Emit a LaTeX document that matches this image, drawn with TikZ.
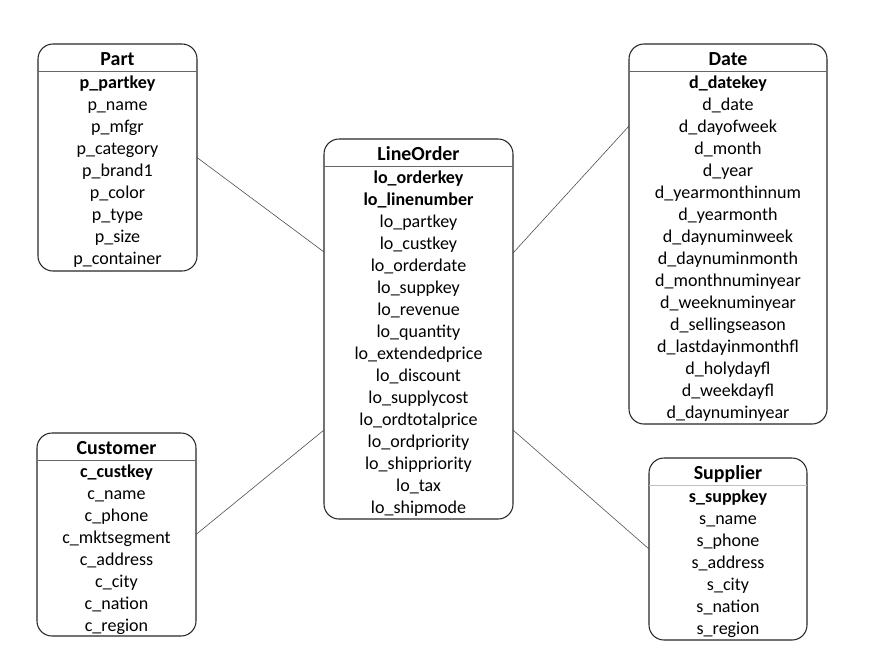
\documentclass[tikz,border=0pt]{standalone}
\usepackage{fontspec}
\setmainfont{Carlito}
\tikzset{
  tblbox/.style={draw=black!85, line width=0.9pt, rounded corners=0.45cm, inner sep=0pt, outer sep=0pt, anchor=north west},
  tbltitle/.style={anchor=base, inner sep=0pt, font=\fontsize{17}{20}\selectfont\bfseries},
  tblkey/.style={anchor=base, inner sep=0pt, font=\fontsize{15.4}{18}\selectfont\bfseries},
  tblrow/.style={anchor=base, inner sep=0pt, font=\fontsize{15.4}{18}\selectfont},
  sepline/.style={draw=black!60, line width=0.6pt},
  link/.style={draw=black!70, line width=0.5pt}
}
\begin{document}
\begin{tikzpicture}[x=0.03cm, y=-0.03cm]
    \useasboundingbox (0,0) rectangle (869,666);
    % Part
    \node[tblbox, minimum width=4.77cm, minimum height=6.81cm] (part) at (38,44) {};
    \draw[sepline] (part.west |- 0,71) -- (part.east |- 0,71);
    \node[tbltitle] (part-title) at (117.5,65) {Part};
    \node[tblkey] (part-key) at (117.5,88) {p\_partkey};
    \foreach \col [count=\i] in {p\_name,p\_mfgr,p\_category,p\_brand1,p\_color,p\_type,p\_size,p\_container}{
        \node[tblrow] (part-\i) at (117.5,{88+22*\i}) {\col};
    }
    % Date
    \node[tblbox, minimum width=5.94cm, minimum height=11.4cm] (date) at (629,44) {};
    \draw[sepline] (date.west |- 0,71) -- (date.east |- 0,71);
    \node[tbltitle] (date-title) at (728,65) {Date};
    \node[tblkey] (date-key) at (728,88) {d\_datekey};
    \foreach \col [count=\i] in {d\_date,d\_dayofweek,d\_month,d\_year,d\_yearmonthinnum,d\_yearmonth,d\_daynuminweek,d\_daynuminmonth,d\_monthnuminyear,d\_weeknuminyear,d\_sellingseason,d\_lastdayinmonthfl,d\_holydayfl,d\_weekdayfl,d\_daynuminyear}{
        \node[tblrow] (date-\i) at (728,{88+22*\i}) {\col};
    }
    % LineOrder
    \node[tblbox, minimum width=5.67cm, minimum height=11.4cm] (lineorder) at (324,139) {};
    \draw[sepline] (lineorder.west |- 0,166) -- (lineorder.east |- 0,166);
    \node[tbltitle] (lineorder-title) at (418.5,160) {LineOrder};
    \node[tblkey] (lineorder-key1) at (418.5,183) {lo\_orderkey};
    \node[tblkey] (lineorder-key2) at (418.5,205) {lo\_linenumber};
    \foreach \col [count=\i] in {lo\_partkey,lo\_custkey,lo\_orderdate,lo\_suppkey,lo\_revenue,lo\_quantity,lo\_extendedprice,lo\_discount,lo\_supplycost,lo\_ordtotalprice,lo\_ordpriority,lo\_shippriority,lo\_tax,lo\_shipmode}{
        \node[tblrow] (lineorder-\i) at (418.5,{205+22*\i}) {\col};
    }
    % Customer
    \node[tblbox, minimum width=4.77cm, minimum height=6.09cm] (customer) at (37,433) {};
    \draw[sepline] (customer.west |- 0,460) -- (customer.east |- 0,460);
    \node[tbltitle] (customer-title) at (116.5,454) {Customer};
    \node[tblkey] (customer-key) at (116.5,477) {c\_custkey};
    \foreach \col [count=\i] in {c\_name,c\_phone,c\_mktsegment,c\_address,c\_city,c\_nation,c\_region}{
        \node[tblrow] (customer-\i) at (116.5,{477+22*\i}) {\col};
    }
    % Supplier
    \node[tblbox, minimum width=4.74cm, minimum height=5.46cm] (supplier) at (649,458) {};
    \draw[sepline, draw=black!25] (supplier.west |- 0,485) -- (supplier.east |- 0,485);
    \node[tbltitle] (supplier-title) at (728,479) {Supplier};
    \node[tblkey] (supplier-key) at (728,502) {s\_suppkey};
    \foreach \col [count=\i] in {s\_name,s\_phone,s\_address,s\_city,s\_nation,s\_region}{
        \node[tblrow] (supplier-\i) at (728,{502+22*\i}) {\col};
    }
    % links
    \coordinate (lineorder-w1) at (lineorder.west |- 0,252);
    \coordinate (lineorder-w2) at (lineorder.west |- 0,430);
    \coordinate (lineorder-e1) at (lineorder.east |- 0,253);
    \coordinate (lineorder-e2) at (lineorder.east |- 0,430);
    \coordinate (date-w) at (date.west |- 0,126);
    \draw[link] (part.east) -- (lineorder-w1);
    \draw[link] (lineorder-e1) -- (date-w);
    \draw[link] (customer.east) -- (lineorder-w2);
    \draw[link] (lineorder-e2) -- (supplier.west);
\end{tikzpicture}
\end{document}
